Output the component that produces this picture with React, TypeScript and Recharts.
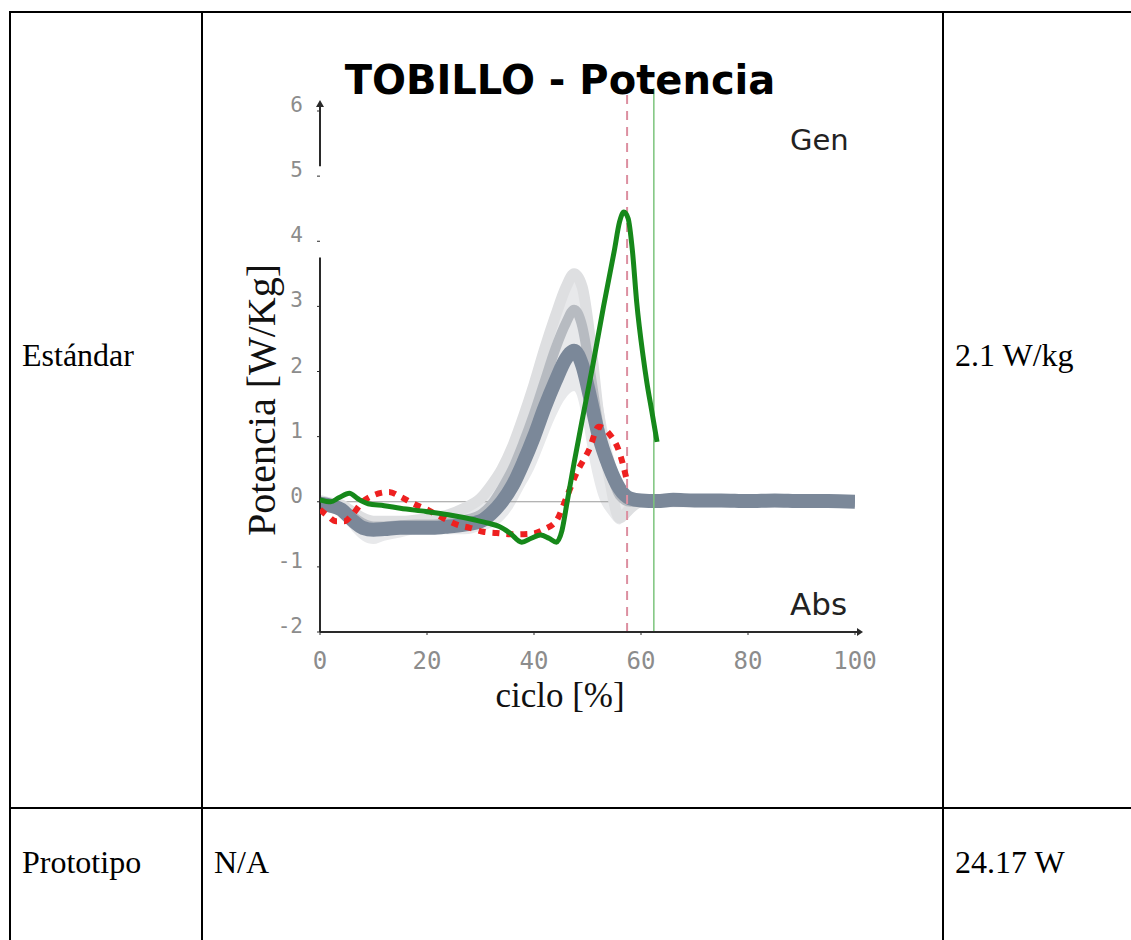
import React from 'react';
import { ComposedChart, Line, Area, XAxis, YAxis, ReferenceLine, ReferenceDot } from 'recharts';

// ---- Data ----
const standardCycle = [0, 2, 4, 6, 8, 10, 12, 15, 18, 21, 24, 27, 30, 32, 34, 36, 38, 40, 42, 44, 46, 47.5, 49, 50.5, 52, 54, 56, 58, 60, 63, 66, 70, 75, 80, 85, 90, 95, 100];
const meanPower = [-0.03, -0.06, -0.12, -0.28, -0.4, -0.43, -0.42, -0.4, -0.4, -0.4, -0.38, -0.35, -0.3, -0.18, 0.0, 0.25, 0.6, 1.0, 1.45, 1.85, 2.2, 2.32, 2.1, 1.6, 1.05, 0.55, 0.2, 0.05, 0.02, 0.01, 0.03, 0.02, 0.02, 0.01, 0.02, 0.01, 0.01, 0.0];
const midPower = [0.0, -0.05, -0.1, -0.22, -0.33, -0.38, -0.38, -0.36, -0.35, -0.35, -0.32, -0.28, -0.2, -0.05, 0.2, 0.5, 0.9, 1.35, 1.85, 2.35, 2.75, 2.95, 2.7, 2.0, 1.2, 0.55, 0.1, 0.0, 0.0, 0.0, 0.0, 0.0, 0.0, 0.0, 0.0, 0.0, 0.0, 0.0];
const lightPower = [0.02, -0.02, -0.05, -0.15, -0.25, -0.3, -0.3, -0.3, -0.28, -0.25, -0.2, -0.1, 0.05, 0.25, 0.5, 0.85, 1.3, 1.8, 2.35, 2.85, 3.3, 3.5, 3.3, 2.5, 1.4, 0.4, -0.25, -0.1, 0.0, 0.0, 0.0, 0.0, 0.0, 0.0, 0.0, 0.0, 0.0, 0.0];
const bandLow = [-0.1, -0.15, -0.25, -0.45, -0.6, -0.65, -0.6, -0.55, -0.5, -0.5, -0.5, -0.5, -0.45, -0.4, -0.3, -0.1, 0.2, 0.5, 0.9, 1.3, 1.6, 1.7, 1.3, 0.6, 0.1, -0.2, -0.35, -0.1, -0.05, -0.04, -0.04, -0.04, -0.04, -0.04, -0.04, -0.04, -0.04, -0.04];
const bandHigh = [0.05, 0.05, 0.0, -0.1, -0.2, -0.25, -0.25, -0.25, -0.25, -0.22, -0.18, -0.1, 0.05, 0.25, 0.5, 0.85, 1.3, 1.8, 2.3, 2.8, 3.3, 3.5, 3.3, 2.7, 1.9, 1.0, 0.4, 0.1, 0.05, 0.04, 0.04, 0.04, 0.04, 0.04, 0.04, 0.04, 0.04, 0.04];

const redCycle = [0, 1.5, 3, 4.5, 6, 8, 10, 12.9, 15, 17.5, 20, 23, 25.9, 28, 30.5, 33, 36, 39.6, 42, 44.2, 46, 48, 50.3, 52.1, 54, 56, 57.3];
const redPower = [-0.12, -0.22, -0.3, -0.3, -0.2, 0.0, 0.1, 0.15, 0.08, -0.03, -0.12, -0.25, -0.36, -0.4, -0.46, -0.48, -0.5, -0.49, -0.42, -0.29, 0.05, 0.45, 0.8, 1.15, 1.05, 0.75, 0.35];

const greenCycle = [0, 2, 3.5, 5.5, 7, 9, 12, 15, 19.8, 24, 29, 31.5, 33.5, 35.5, 37.7, 39.5, 41.2, 42.8, 44.2, 45.2, 46.2, 47.5, 49, 51, 53, 55, 56, 56.8, 57.6, 58.4, 59.2, 60.4, 61.1, 62, 63];
const greenPower = [0.03, 0.0, 0.06, 0.13, 0.05, -0.03, -0.06, -0.1, -0.15, -0.2, -0.28, -0.33, -0.38, -0.48, -0.62, -0.56, -0.51, -0.56, -0.62, -0.45, 0.0, 0.6, 1.25, 2.1, 3.0, 3.85, 4.3, 4.45, 4.35, 3.85, 3.06, 2.23, 1.83, 1.4, 0.92];

const toeOffStandard = 57.4;
const toeOffPrototype = 62.4;

const xTicks = [0, 20, 40, 60, 80, 100];
const yTicks = [-2, -1, 0, 1, 2, 3, 4, 5, 6];

const title = 'TOBILLO - Potencia';
const yTitle = 'Potencia [W/Kg]';
const xTitle = 'ciclo [%]';
const genLabel = 'Gen';
const absLabel = 'Abs';

const rowLabels = ['Estándar', 'Prototipo'];
const rowMiddle = ['', 'N/A'];
const rowValues = ['2.1 W/kg', '24.17 W'];

// ---- Built tables ----
const standardData = standardCycle.map((x, i) => ({
  x,
  mean: meanPower[i],
  mid: midPower[i],
  light: lightPower[i],
  band: [bandLow[i], bandHigh[i]],
}));
const redData = redCycle.map((x, i) => ({ x, red: redPower[i] }));
const greenData = greenCycle.map((x, i) => ({ x, green: greenPower[i] }));

const AXIS = '#2a2a2a';
const TICK = '#8c8c8c';

const YTick = (props: any) => {
  const { x, y, payload } = props;
  return (
    <text x={x} y={y - 6} textAnchor="end" dominantBaseline="central" fill={TICK} fontSize={21} fontFamily="'DejaVu Sans Mono', monospace">
      {payload.value}
    </text>
  );
};

const XTick = (props: any) => {
  const { x, y, payload } = props;
  return (
    <text x={x} y={y + 16} textAnchor="middle" dominantBaseline="central" fill={TICK} fontSize={24} fontFamily="'DejaVu Sans Mono', monospace">
      {payload.value}
    </text>
  );
};

const XArrow = (props: any) => {
  const { cx, cy } = props;
  return <path d={`M${cx - 1} ${cy - 1} L${cx + 2} ${cy - 1} L${cx + 2} ${cy - 4} L${cx + 8} ${cy} L${cx + 2} ${cy + 4} L${cx + 2} ${cy + 1} L${cx - 1} ${cy + 1} Z`} fill={AXIS} />;
};

const YArrow = (props: any) => {
  const { cx, cy } = props;
  return <path d={`M${cx - 1} ${cy + 1} L${cx - 1} ${cy - 4} L${cx - 4} ${cy - 4} L${cx} ${cy - 11} L${cx + 4} ${cy - 4} L${cx + 1} ${cy - 4} L${cx + 1} ${cy + 1} Z`} fill={AXIS} />;
};

const hLine = (top: number, left: number, width: number) => (
  <div style={{ position: 'absolute', top, left, width, height: 2, background: '#000' }} />
);
const vLine = (left: number, top: number, height: number) => (
  <div style={{ position: 'absolute', top, left, width: 2, height, background: '#000' }} />
);

const cellText = (text: string, left: number, cy: number) => (
  <div
    style={{
      position: 'absolute',
      left,
      top: cy,
      transform: 'translateY(-50%)',
      fontFamily: "'Liberation Serif', 'Times New Roman', serif",
      fontSize: 32,
      lineHeight: 1,
      whiteSpace: 'nowrap',
      color: '#000',
    }}
  >
    {text}
  </div>
);

export default function App() {
  return (
    <div style={{ position: 'absolute', left: 0, top: 0, width: 1131, height: 940, overflow: 'hidden', background: '#fff' }}>
      {/* table borders */}
      {hLine(11, 9, 1122)}
      {hLine(807, 9, 1122)}
      {vLine(9, 11, 929)}
      {vLine(201, 11, 929)}
      {vLine(942, 11, 929)}

      {cellText(rowLabels[0], 22, 355)}
      {cellText(rowValues[0], 955, 355)}
      {cellText(rowLabels[1], 22, 862)}
      {cellText(rowMiddle[1], 214, 862)}
      {cellText(rowValues[1], 955, 862)}

      {/* chart */}
      <div style={{ position: 'absolute', left: 200, top: 40, width: 700, height: 680 }}>
        <ComposedChart width={700} height={680} data={standardData} margin={{ top: 71, right: 45, left: 60, bottom: 48 }}>
          <XAxis
            type="number"
            dataKey="x"
            domain={[0, 100]}
            ticks={xTicks}
            allowDataOverflow
            axisLine={{ stroke: AXIS, strokeWidth: 2 }}
            tickLine={{ stroke: AXIS, strokeWidth: 1 }}
            tickSize={3}
            tickMargin={10}
            height={40}
            tick={<XTick />}
          />
          <YAxis
            type="number"
            domain={[-2, 6]}
            ticks={yTicks}
            allowDataOverflow
            axisLine={false}
            tickLine={{ stroke: AXIS, strokeWidth: 1 }}
            tickSize={3}
            tickMargin={14}
            width={60}
            tick={<YTick />}
          />
          <Area type="monotone" dataKey="band" stroke="none" fill="#e8e9eb" fillOpacity={1} isAnimationActive={false} />
          <ReferenceLine y={0} stroke="#9a9a9a" strokeWidth={1} />
          <Line type="monotone" dataKey="light" stroke="#dedfe1" strokeWidth={11} dot={false} isAnimationActive={false} />
          <Line type="monotone" dataKey="mid" stroke="#b7bbc1" strokeWidth={10} dot={false} isAnimationActive={false} />
          <Line type="monotone" dataKey="mean" stroke="#7b8899" strokeWidth={14} dot={false} isAnimationActive={false} />
          {/* y axis drawn in two pieces, as in the scanned figure */}
          <ReferenceLine segment={[{ x: 0, y: -2 }, { x: 0, y: 3.75 }]} ifOverflow="visible" stroke={AXIS} strokeWidth={2} />
          <ReferenceLine segment={[{ x: 0, y: 5.15 }, { x: 0, y: 6 }]} ifOverflow="visible" stroke={AXIS} strokeWidth={2} />
          <ReferenceLine
            segment={[{ x: toeOffStandard, y: -2 }, { x: toeOffStandard, y: 6.35 }]}
            ifOverflow="visible"
            stroke="#dc8fa0"
            strokeWidth={2}
            strokeDasharray="9 7"
          />
          <ReferenceLine
            segment={[{ x: toeOffPrototype, y: -2 }, { x: toeOffPrototype, y: 6.35 }]}
            ifOverflow="visible"
            stroke="#7cc47c"
            strokeWidth={1.5}
          />
          <Line data={redData} type="monotone" dataKey="red" stroke="#ee2020" strokeWidth={6} strokeDasharray="7 7" dot={false} isAnimationActive={false} />
          <Line data={greenData} type="monotone" dataKey="green" stroke="#16881a" strokeWidth={5} dot={false} isAnimationActive={false} />
          <ReferenceDot x={100} y={-2} r={0} ifOverflow="visible" shape={<XArrow />} />
          <ReferenceDot x={0} y={6} r={0} ifOverflow="visible" shape={<YArrow />} />
        </ComposedChart>
      </div>

      {/* chart texts */}
      <div style={{ position: 'absolute', left: 560, top: 80, transform: 'translate(-50%, -50%)', fontFamily: "'DejaVu Sans', sans-serif", fontWeight: 'bold', fontSize: 40, lineHeight: 1, whiteSpace: 'nowrap', color: '#000' }}>
        {title}
      </div>
      <div style={{ position: 'absolute', left: 790, top: 140, transform: 'translateY(-50%)', fontFamily: "'DejaVu Sans', sans-serif", fontSize: 29, lineHeight: 1, whiteSpace: 'nowrap', color: '#222' }}>
        {genLabel}
      </div>
      <div style={{ position: 'absolute', left: 790, top: 604, transform: 'translateY(-50%)', fontFamily: "'DejaVu Sans', sans-serif", fontSize: 31, lineHeight: 1, whiteSpace: 'nowrap', color: '#222' }}>
        {absLabel}
      </div>
      <div style={{ position: 'absolute', left: 262, top: 400, transform: 'translate(-50%, -50%) rotate(-90deg)', fontFamily: "'Liberation Serif', serif", fontSize: 40, lineHeight: 1, whiteSpace: 'nowrap', color: '#111' }}>
        {yTitle}
      </div>
      <div style={{ position: 'absolute', left: 560, top: 695, transform: 'translate(-50%, -50%)', fontFamily: "'Liberation Serif', serif", fontSize: 35, lineHeight: 1, whiteSpace: 'nowrap', color: '#111' }}>
        {xTitle}
      </div>
    </div>
  );
}
